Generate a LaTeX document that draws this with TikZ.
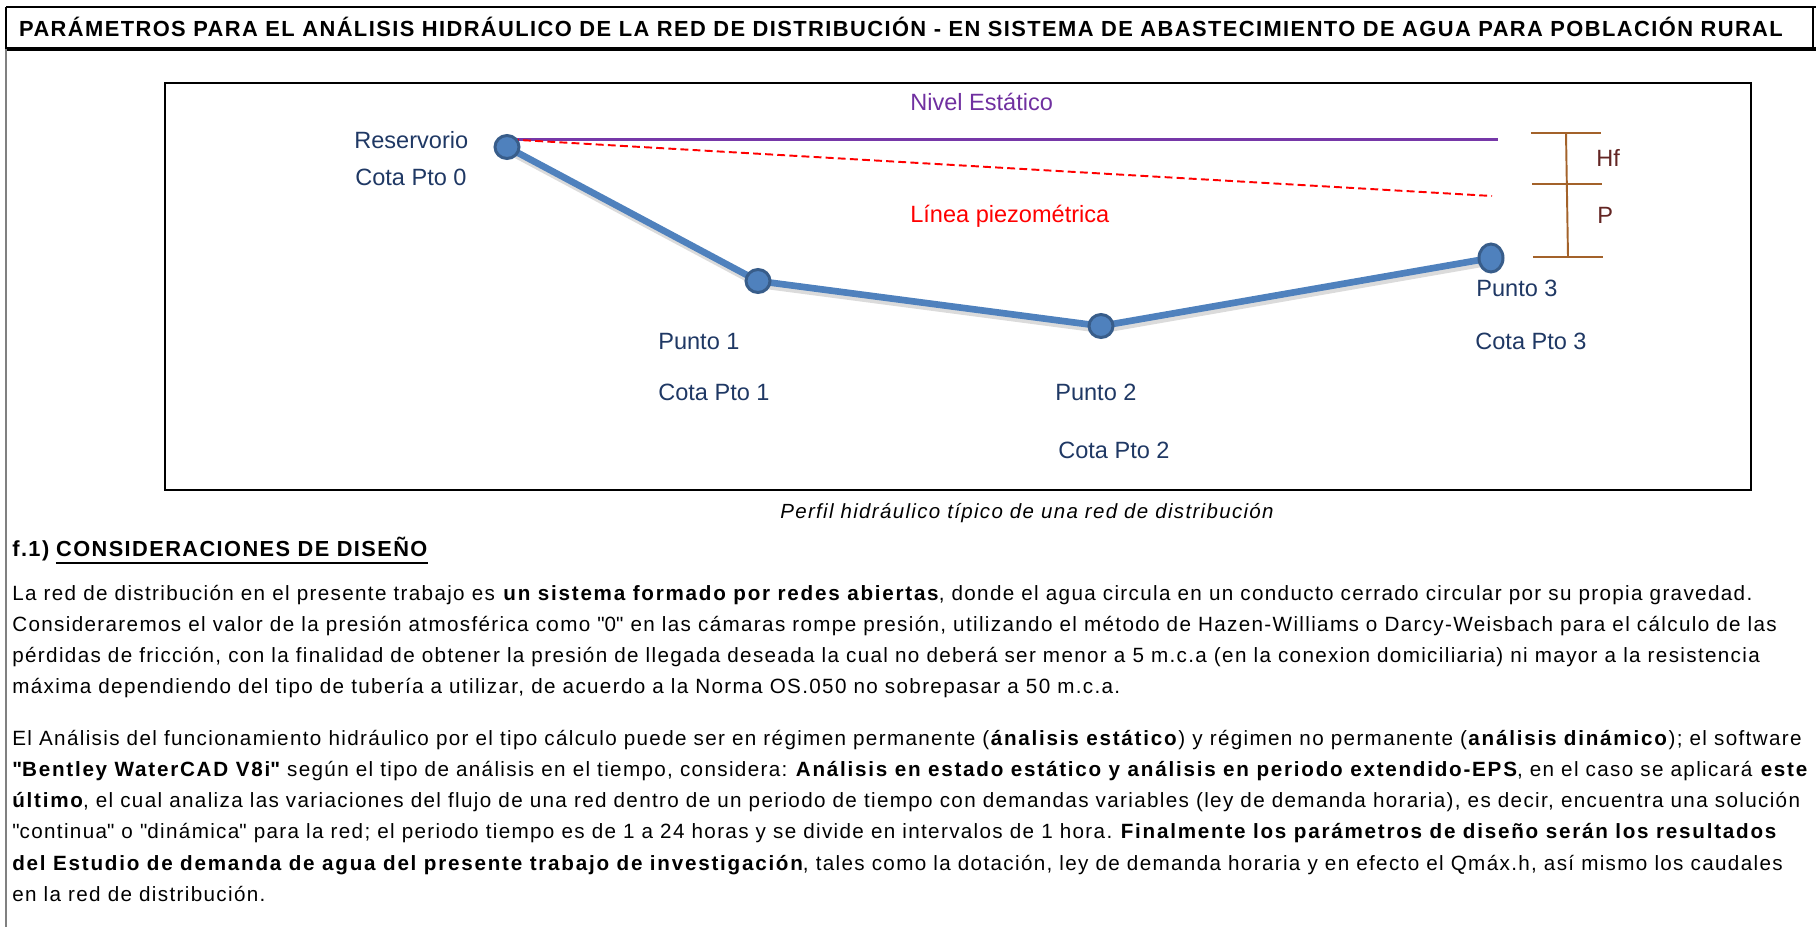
\documentclass[tikz,border=0pt]{standalone}
\usepackage{fontspec}
\setmainfont{Liberation Sans}[LetterSpace=6.5, BoldFeatures={LetterSpace=8.5}]
\newfontfamily\titulofont{Liberation Sans}[LetterSpace=6.5]
\newfontfamily\rotulofont{Liberation Sans}
\usepackage{tikz}
\usetikzlibrary{positioning, shapes.geometric}
\usepackage{color}
\frenchspacing

\definecolor{tubo}{RGB}{79,129,189}
\definecolor{tuboborde}{RGB}{56,93,138}
\definecolor{azuloscuro}{RGB}{31,56,100}
\definecolor{morado}{RGB}{112,48,160}
\definecolor{moradolinea}{RGB}{118,56,168}
\definecolor{cafe}{RGB}{163,98,42}
\definecolor{granate}{RGB}{99,37,35}
\definecolor{bordegris}{RGB}{128,128,128}

\begin{document}
\begin{tikzpicture}[x=0.02cm, y=0.02cm,
    rotulo/.style={font=\rotulofont\fontsize{13.4pt}{16pt}\selectfont,
        text=azuloscuro, inner sep=0pt, text depth=0pt, anchor=west},
    pto/.style={ellipse, draw=tuboborde, fill=tubo, line width=1.7pt,
        minimum width=0.48cm, minimum height=0.46cm, inner sep=0pt},
    parrafo/.style={font=\fontsize{11.75pt}{17.78pt}\selectfont,
        align=left, inner sep=0pt, anchor=north west},
    encabezado/.style={font=\titulofont\bfseries\fontsize{12.4pt}{15pt}\selectfont,
        inner sep=0pt, anchor=base west}
]
    \useasboundingbox (0,0) rectangle (1816,-927);

    % marco y titulo
    \draw[line width=1.2pt] (6,-7) -- (1816,-7);
    \draw[line width=1.2pt] (1813,-7) -- (1813,-49);
    \draw[line width=1.7pt] (6,-7) -- (6,-49);
    \draw[line width=2.6pt] (6,-49) -- (1816,-49);
    \draw[bordegris, line width=0.9pt] (6,-49) -- (6,-927);
    \node [font=\titulofont\bfseries\fontsize{12.45pt}{15pt}\selectfont,
        inner sep=0pt
    ] (titulo) at (901,-27) {PARÁMETROS PARA EL ANÁLISIS HIDRÁULICO DE LA RED DE DISTRIBUCIÓN - EN SISTEMA DE ABASTECIMIENTO DE AGUA PARA POBLACIÓN RURAL};

    % perfil
    \draw[line width=1.6pt] (165,-83) rectangle (1751,-490);

    \coordinate (r0) at (507,-147);
    \coordinate (r1) at (758,-281);
    \coordinate (r2) at (1101,-326);
    \coordinate (r3) at (1491,-258);
    \coordinate (ini) at (511,-139.5);
    \coordinate (finnivel) at (1498,-139.5);
    \coordinate (finpiezo) at (1492,-196);

    \draw[moradolinea, line width=1.2pt] (ini) -- (finnivel);
    \draw[red, line width=1.1pt, dash pattern=on 4.5pt off 2.4pt] (ini) -- (finpiezo);

    \draw[gray!40, line width=3.8pt, opacity=0.7,
        transform canvas={shift={(0.8pt,-2.2pt)}}] (r0) -- (r1) -- (r2) -- (r3);
    \draw[tubo, line width=3.8pt, line join=round] (r0) -- (r1) -- (r2) -- (r3);

    \node [pto] (p0) at (r0) {};
    \node [pto] (p1) at (r1) {};
    \node [pto] (p2) at (r2) {};
    \node [pto, minimum width=0.48cm, minimum height=0.56cm] (p3) at (r3) {};

    \node [rotulo] (lreserv) at (354,-140) {Reservorio};
    \node [rotulo] (lcota0) at (355,-177) {Cota Pto 0};
    \node [rotulo] (lpto1) at (658,-341) {Punto 1};
    \node [rotulo] (lcota1) at (658,-392) {Cota Pto 1};
    \node [rotulo] (lpto2) at (1055,-392) {Punto 2};
    \node [rotulo] (lcota2) at (1058,-450) {Cota Pto 2};
    \node [rotulo] (lpto3) at (1476,-288) {Punto 3};
    \node [rotulo] (lcota3) at (1475,-341) {Cota Pto 3};
    \node [rotulo, text=morado] (lnivel) at (910,-102) {Nivel Estático};
    \node [rotulo, text=red] (lpiezo) at (910,-214) {Línea piezométrica};

    % Hf y P
    \coordinate (cotaA) at (1566,-133);
    \coordinate (cotaB) at (1567,-184);
    \coordinate (cotaC) at (1568,-257);
    \draw[cafe, line width=1.1pt] (cotaA) -- (cotaC);
    \draw[cafe, line width=1.1pt] ([xshift=-20]cotaA) -- ([xshift=20]cotaA);
    \draw[cafe, line width=1.1pt] ([xshift=-20]cotaB) -- ([xshift=20]cotaB);
    \draw[cafe, line width=1.1pt] ([xshift=-20]cotaC) -- ([xshift=20]cotaC);
    \node [rotulo, text=granate] (lhf) at (1596,-158) {Hf};
    \node [rotulo, text=granate] (lp) at (1597,-215) {P};

    \node [font=\itshape\fontsize{11.66pt}{14pt}\selectfont,
        inner sep=0pt, anchor=base
    ] (pie) at (1027,-518) {Perfil hidráulico típico de una red de distribución};

    % consideraciones
    \node [encabezado] (hdnum) at (12,-556) {f.1)};
    \node [encabezado] (hdtexto) at ([xshift=3.5pt]hdnum.base east) {CONSIDERACIONES DE DISEÑO};
    \draw[line width=1.1pt] ([yshift=-4pt]hdtexto.base west) -- ([yshift=-4pt]hdtexto.base east);

    \node [parrafo] (par1) at (12,-578) {\strut La red de distribución en el presente trabajo es \textbf{un sistema formado por redes abiertas}, donde el agua circula en un conducto cerrado circular por su propia gravedad.\\
        Consideraremos el valor de la presión atmosférica como \textquotedbl 0\textquotedbl{} en las cámaras rompe presión, utilizando el método de Hazen-Williams o Darcy-Weisbach para el cálculo de las\\
        pérdidas de fricción, con la finalidad de obtener la presión de llegada deseada la cual no deberá ser menor a 5 m.c.a (en la conexion domiciliaria) ni mayor a la resistencia\\
        máxima dependiendo del tipo de tubería a utilizar, de acuerdo a la Norma OS.050 no sobrepasar a 50 m.c.a.};

    \node [parrafo] (par2) at (12,-723) {\strut El Análisis del funcionamiento hidráulico por el tipo cálculo puede ser en régimen permanente (\textbf{ánalisis estático}) y régimen no permanente (\textbf{análisis dinámico}); el software\\
        \textbf{\textquotedbl Bentley WaterCAD V8i\textquotedbl} según el tipo de análisis en el tiempo, considera: \textbf{Análisis en estado estático y análisis en periodo extendido-EPS}, en el caso se aplicará \textbf{este}\\
        \textbf{último}, el cual analiza las variaciones del flujo de una red dentro de un periodo de tiempo con demandas variables (ley de demanda horaria), es decir, encuentra una solución\\
        \textquotedbl continua\textquotedbl{} o \textquotedbl dinámica\textquotedbl{} para la red; el periodo tiempo es de 1 a 24 horas y se divide en intervalos de 1 hora. \textbf{Finalmente los parámetros de diseño serán los resultados}\\
        \textbf{del Estudio de demanda de agua del presente trabajo de investigación}, tales como la dotación, ley de demanda horaria y en efecto el Qmáx.h, así mismo los caudales\\
        en la red de distribución.};
\end{tikzpicture}
\end{document}
